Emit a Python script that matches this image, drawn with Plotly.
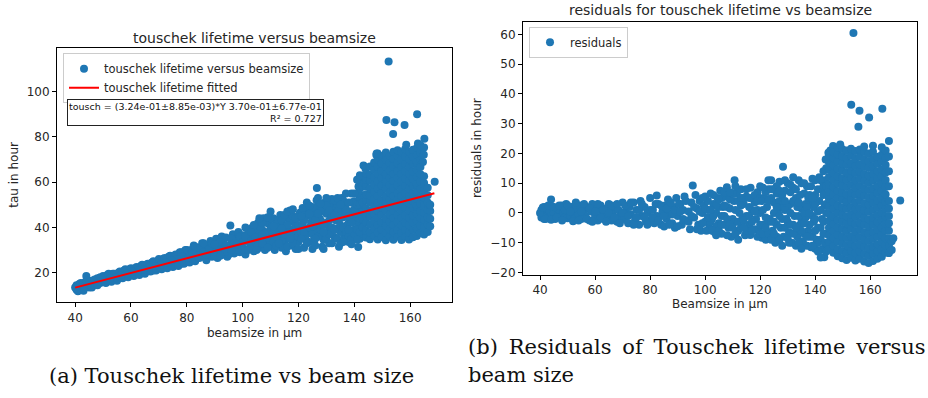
import plotly.graph_objects as go

# ---------------- data ----------------
# (a) touschek lifetime [hour] versus beam size [um]
tau_low = [(40.5,12.5),(40.5,14.5),(41,13),(41.5,15),(42,12.5),(42,14),(43,13.5),(43,15.5),(44,14),(44,18.5),
           (44.5,16),(45,13.5),(45.5,15),(46,16.5),(46.5,14.5),(47,15.5),(48,16),(48,17.5),(49,15.5),(49.5,17),
           (50,16),(50,18.5),(51,17),(51.5,19),(52,16.5),(53,18),(53.5,19.5),(54,17),(55,18.5),(55.5,20),
           (56,17.5),(57,19),(57.5,21),(58,18.5),(59,20),(59.5,21.5),(60,19),(61,20.5),(61.5,22),(62,19.5),
           (63,21),(63.5,23),(64,20),(65,21.5),(65.5,23.5),(66,21),(67,22.5),(67.5,24.5),(68,21),(69,23),
           (69.5,25),(70,22),(71,24),(71.5,26),(72,22.5),(73,24.5),(73.5,27),(74,23),(75,25),(75.5,27.5),
           (76,23.5),(77,26),(77.5,29),(78,24),(79,26.5),(79.5,30),(80,25),(80,28),
           (40,13.5),(41,11.8),(42,15.5),(43,12),(44,16.5),(45,15.8),(46,13.5),(47,17),(48,14.5),(49,18),
           (50,17.3),(51,15.5),(52,19.5),(53,16),(54,19.5),(55,16.5),(56,20.5),(57,17.5),(58,21.5),(59,18),
           (60,22),(61,18.5),(62,22.5),(63,19),(64,23.5),(65,19.5),(66,24),(67,20.5),(68,25),(69,21),
           (70,26),(71,21.5),(72,26.5),(73,22),(74,27.5),(75,22.5),(76,28),(77,23),(78,29),(79,24),
           (80,30),(78.5,27),(76.5,26),(74.5,25.5),(72.5,24.5),(70.5,23.5),(68.5,23),(66.5,22.5),(64.5,21.5),(62.5,21),
           (60.5,20.5),(58.5,19.5),(56.5,19),(54.5,18),(52.5,17.5)]
tau_mid = [(81,24.5),(81,27),(81.5,30),(82,26),(82.5,32),(83,25),(83.5,28.5),(84,31),(84.5,26.5),(85,29),
           (85.5,33),(86,27),(86.5,30.5),(87,25.5),(87.5,32),(88,28),(88.5,34),(89,27),(89.5,31),(90,29),
           (90.5,35),(91,26.5),(91.5,33),(92,30),(92.5,36),(93,28),(93.5,32.5),(94,35.5),(94.5,27),(95,30.5),
           (95.6,40.8),(96,33),(96.5,37),(97,28.5),(97.5,31),(98,35),(98.5,38),(99,29),(99.5,33),(100,31),
           (100,36.5),(101,28),(101.5,34),(102,38.5),(102.5,31),(103,36),(103.5,40),(104,29.5),(104.5,33),(105,37.5),
           (105.5,42),(106,31),(106.5,35),(107,39),(107.5,44),(108,30),(108.5,34),(109,38),(109.5,41.5),(110,47),
           (110,32.5),(110.5,36),(111,44),(111.5,30),(112,39),(112.5,34),(113,42),(113.5,45.5),(114,31),(114.5,37),
           (115,40.5),(115.5,29.5),(116,44),(116.5,35),(117,47.5),(117.5,32),(118,39),(118.5,42),(119,30.5),(119.5,36),
           (120,44.5),(120,33.5),(120.5,46.5),(100.5,30),(102,34.5),(103,32),(105,33),(106,40),(108,42),(109,35.5),
           (111,33.5),(112,43),(113,37),(115,34),(116,38.5),(118,35.5),(119,41),(117,43.5),
           (80.5,26.5),(82,29),(83,31.5),(84,27.5),(85,31),(86,29),(87,28),(88,31),(89,33),(90,27.5),
           (91,31),(92,33.5),(93,30.5),(94,32),(95,28),(96,35),(97,33),(98,30),(99,36),(100,33.5),
           (86,33),(90,32.5),(94,29.5),(98,32.5),(92,27.5),(96,30),
           (101,36),(102,30),(103,34),(104,38),(104,41),(105,30),(106,37),(107,33),(107,42),(108,37),
           (109,31),(110,39.5),(110,44),(111,37.5),(112,32),(113,40),(114,34),(114,43),(115,37),(116,31.5),
           (116,41),(117,38),(118,33),(118,45),(119,38.5),(120,30.5),(120,38),(120,41),
           (101,40),(103,38),(104.5,35.5),(106,44),(107,36.5),(109,44.5),(111,40.5),(112,36),(113,33),(114,39.5),
           (115,45.5),(116,47),(117,35),(118,48),(119,44),(120,36)]
tau_high = [(121,38),(121.5,41.5),(122,31),(122.5,35),(123,45),(123.5,48),(124,37.5),(124.5,42),(125,30.5),(125.5,34),
            (126,47),(126.5,52),(126.6,57.4),(127,40),(127.5,44),(128,36),(128.5,31.5),(129,48.5),(129.5,51),(130,42),
            (130.5,38),(131,33),(131.5,46),(132,52.5),(132.5,49),(133,35.5),(133.5,43),(134,39.5),(134.5,31.5),(135,47),
            (135.5,53),(136,44.5),(136.5,36),(137,50.5),(137.5,41),(138,33.5),(138.5,47),(139,55),(139.5,38.5),(140,44),
            (140,51.5),(140.5,35.5),(141.4,31.3),(141.5,58),(142,48),(142.5,41),(143,37),(143,54),(143.3,67.3),(143.5,62),
            (121,35),(122,43),(123,39.5),(124,33.5),(125,44),(126,38),(127,49.5),(128,43),(129,34.5),(130,46),
            (131,40),(132,37),(133,48),(134,44),(135,38),(136,49),(137,35),(138,42),(139,46),(140,39),
            (141,42),(142,35),(142,53),(141,55),(139,51),(137,45),(134,50),(131,50.5),
            (121,45),(122,38),(122,48),(123,33),(124,40),(124,46),(125,37),(125,49),(126,32),(126,43),
            (127,36),(127,53),(128,39),(128,47),(129,41),(129,30.5),(130,35),(130,49.5),(131,37),(131,43),
            (132,33),(132,40),(132,45),(133,39),(133,52),(134,35),(134,47),(135,33),(135,41),(135,44),
            (136,40),(136,52),(137,38),(137,48),(138,36),(138,45),(138,51),(139,35),(139,42),(140,37),
            (140,48),(141,34.5),(141,39),(141,46),(141,50),(142,38),(142,44),(142,50),(142,57),(143,40),
            (143,44),(143,47),(143,51),(143,58),(144,66),(142.5,60),
            (121.5,48.5),(123,51),(124,49.5),(125,40.5),(126,35),(127,46),(128,50.5),(129,38),(130,53),(131,47.5),
            (133,45.5),(134,53),(135,50),(136,33.5),(137,55),(138,39),(139,32.5),(140,55),(141,61),(142,63)]
tau_cluster = [(144.2,35.5),(144.2,38.6),(144.2,42.0),(144.2,45.1),(144.2,48.3),(144.2,51.7),(144.2,54.6),(144.2,58.0),(144.2,61.2),(144.2,63.8),
               (145.6,34.8),(145.6,37.9),(145.6,41.2),(145.6,44.6),(145.6,47.5),(145.6,50.9),(145.6,54.1),(145.6,57.3),(145.6,60.6),(145.6,63.5),(145.6,66.9),
               (147.1,36.2),(147.1,39.5),(147.1,42.7),(147.1,46.0),(147.1,49.2),(147.1,52.4),(147.1,55.8),(147.1,58.9),(147.1,62.1),(147.1,65.4),(147.1,68.6),(147.9,71.9),
               (148.4,34.6),(148.4,37.7),(148.4,41.0),(148.4,44.3),(148.4,47.4),(148.4,50.8),(148.4,53.9),(148.4,57.2),(148.4,60.4),(148.4,63.7),(148.4,66.8),(148.4,70.1),(148.4,72.6),
               (149.8,35.8),(149.8,39.1),(149.8,42.3),(149.8,45.6),(149.8,48.8),(149.8,52.0),(149.8,55.3),(149.8,58.5),(149.8,61.8),(149.8,65.0),(149.8,68.2),(149.8,71.5),
               (151.3,34.3),(151.3,37.5),(151.3,40.8),(151.3,44.0),(151.3,47.3),(151.3,50.5),(151.3,53.7),(151.3,57.0),(151.3,60.2),(151.3,63.4),(151.3,66.7),(151.3,69.9),(151.3,73.0),
               (152.7,36.0),(152.7,39.2),(152.7,42.5),(152.7,45.7),(152.7,49.0),(152.7,52.2),(152.7,55.4),(152.7,58.7),(152.7,61.9),(152.7,65.1),(152.7,68.4),(152.7,71.6),
               (154.0,34.5),(154.0,37.8),(154.0,41.1),(154.0,44.3),(154.0,47.5),(154.0,50.8),(154.0,54.0),(154.0,57.2),(154.0,60.5),(154.0,63.7),(154.0,66.9),(154.0,70.2),(154.0,73.4),
               (155.5,35.9),(155.5,39.0),(155.5,42.4),(155.5,45.5),(155.5,48.9),(155.5,52.1),(155.5,55.2),(155.5,58.6),(155.5,61.8),(155.5,65.0),(155.5,68.3),(155.5,71.5),(155.5,74.0),
               (156.9,34.4),(156.9,37.6),(156.9,40.9),(156.9,44.2),(156.9,47.3),(156.9,50.6),(156.9,53.8),(156.9,57.1),(156.9,60.3),(156.9,63.6),(156.9,66.8),(156.9,70.0),(156.9,73.2),
               (158.2,35.7),(158.2,38.9),(158.2,42.2),(158.2,45.4),(158.2,48.7),(158.2,51.9),(158.2,55.1),(158.2,58.4),(158.2,61.6),(158.2,64.8),(158.2,68.1),(158.2,71.3),(158.2,74.5),(158.6,76.5),
               (159.6,34.6),(159.6,37.8),(159.6,41.0),(159.6,44.3),(159.6,47.6),(159.6,50.8),(159.6,54.0),(159.6,57.3),(159.6,60.5),(159.6,63.7),(159.6,67.0),(159.6,70.2),(159.6,73.4),
               (161.0,35.6),(161.0,38.8),(161.0,42.1),(161.0,45.3),(161.0,48.6),(161.0,51.8),(161.0,55.0),(161.0,58.3),(161.0,61.5),(161.0,64.7),(161.0,68.0),(161.0,71.2),(161.0,74.3),
               (162.4,36.2),(162.4,39.5),(162.4,42.8),(162.4,46.0),(162.4,49.3),(162.4,52.5),(162.4,55.7),(162.4,59.0),(162.4,62.2),(162.4,65.4),(162.4,68.7),(162.4,71.9),(162.4,75.0),(162.8,77.0),
               (163.7,37.5),(163.7,40.8),(163.7,44.0),(163.7,47.2),(163.7,50.5),(163.7,53.7),(163.7,57.0),(163.7,60.2),(163.7,63.4),(163.7,66.6),(163.7,69.9),(163.7,73.0),(163.7,76.2),
               (165.0,36.9),(165.0,40.1),(165.0,43.4),(165.0,46.6),(165.0,49.9),(165.0,53.1),(165.0,56.3),(165.0,59.6),(165.0,62.6),(164.6,68.8),(164.9,72.0),(165.0,75.3),
               (166.3,38.0),(166.3,41.3),(166.3,44.5),(166.3,47.8),(166.3,51.0),(166.3,54.2),(166.3,57.5),
               (167.2,40.5),(167.2,43.8),(167.2,47.2),(167.2,50.0)]
tau_outliers = [(152.3,113.2),(151.5,87.4),(154.4,86.4),(158.0,85.2),(162.5,89.9),(153.9,81.2),(165.1,79.1),
                (168.8,60.1),(148.0,72.6)]

# fitted line end points
fit_x = [40.0, 168.7]
fit_y = [13.4, 55.1]

# (b) residuals [hour] versus beam size [um]
res_low = [(40.5,-1.5),(40.5,1),(41,0),(41.5,-2),(41.5,2),(42,-0.5),(42.5,1.5),(43,-1.5),(43.5,0.5),(44,4.5),
           (44,-1),(44.5,2),(45,0),(45.5,-2),(46,1.5),(46.5,-0.5),(47,1),(47.5,-1.5),(48,2.5),(48.5,0),
           (49,-1.5),(49.5,3),(50,0.5),(50,-1.8),(51,-1),(51.5,2),(52,0),(52.5,-2),(53,1.5),(54,-0.5),
           (54.5,2.5),(55,-2),(56,1),(56.5,-1),(57,2),(58,-2.5),(58.5,0.5),(59,3),(60,-1),(60.5,1.5),
           (61,-2.5),(62,2.5),(62.5,0),(63,-2),(64,1.5),(64.5,-1),(65,3),(66,-2.5),(66.5,0.5),(67,2),
           (68,-3),(68.5,1),(69,-1),(70,3.5),(70.5,-2),(71,0.5),(72,-3.5),(72.5,2),(73,-0.5),(74,3.5),
           (74.5,-2.5),(75,1),(76,-4),(76.5,4),(77,-1),(78,2),(78.5,-3),(79,0),(80,5),(80,-2.5),
           (40,0),(41,1.8),(42,-2),(43,2.5),(44,-2.3),(45,2),(46,-1.5),(47,2.5),(48,-2.5),(49,1),
           (50,2.5),(51,0.5),(52,-2.8),(53,3.5),(54,-2.5),(55,0.5),(56,3),(57,-2),(58,1.5),(59,-3),
           (60,0.5),(61,3),(62,-1.5),(63,1),(64,-3),(65,0),(66,2.5),(67,-1.5),(68,3),(69,-3.5),
           (70,0),(71,2.5),(72,-1),(73,3.5),(74,-4),(75,-1.5),(76,1),(77,3),(78,-1.5),(79,-4),(80,1)]
res_mid = [(81,1),(81.5,-3.5),(82.4,5.9),(82.5,-1),(83,3),(84,-4),(84.5,0.5),(85.1,-4.6),(85.5,2.5),(86,-2),
           (86.5,4.5),(87,0),(88,-3.5),(88.5,2),(89,-5),(89.5,5),(90,-1),(91,3),(91.5,-4),(92,1),
           (92.5,5.5),(93,-2.5),(94,0.5),(94.5,-5.5),(95,3.5),(95.5,9.2),(96,-1.5),(96.5,6),(97,1.5),(97.5,-4),
           (98,4),(98.5,-6),(99,0),(99.5,2.5),(100,-3),(100,5.5),(101,1),(101.5,-5),(102,6.5),(102.5,-2),
           (103,3),(103.5,-6.5),(104,0),(104.5,5),(105,-3.5),(105.5,7.5),(106,-7),(106.5,2),(107,-1),(107.5,5.5),
           (107.9,8.6),(108.5,-5),(109,1.5),(109.5,-8),(110.7,11),(110.5,4),(111,-3),(111.5,6.5),(112,-6),(112.5,0),
           (113,8),(113.5,-2),(114,3),(114.5,-7.5),(115,5.5),(116,-4),(116.5,8.5),(117,1),(116.4,-7.4),(118,3.5),
           (118.5,-2),(119,7),(119.5,-6),(120,0),(120,9),(120.6,-8.3),(100.5,-6),(101,4),(102,-3),(103,6),
           (104,-4.5),(105,2),(106,5),(107,-4),(108,2),(109,4.5),(110,-2),(111,1),(112,4),(113,-5),
           (114,5),(115,-1),(116,2),(117,5),(118,-5.5),(119,1),(120,-4),(102.5,-6),(111,-7),(115,-6),
           (81,-1.5),(82,3),(83,-2.5),(84,2.5),(85,-1),(86,1.5),(87,-4),(87.5,3.5),(88,-0.5),(89,1),
           (90,-4.5),(90.5,3),(91,0.5),(92,-2),(93,4),(94,-3),(95,-1),(96,2),(97,-5.5),(98,0.5),
           (99,-3.5),(99,5),(101,-1.5),(103,-1),(104,2.5),(105,-6),(106,-1),(107,7),(108,-2),(109,-4),
           (110,6.5),(112,-3),(113,2.5),(114,-2.5),(116,5),(117,-3),(118,6),(119,-8),(120,5),
           (100,1.5),(102,1),(104,-7.5),(105,4.5),(106,-4),(107,2.5),(108,-7.5),(109,7),(110,-5),(111,9),
           (112,-9),(113,5),(114,-5),(115,8),(116,-1),(117,-6),(118,0.5),(119,4),(120,-7)]
res_high = [(121,-4),(121.5,5),(122,-9),(122.5,2),(123,8),(123.5,-2),(124,11),(124.5,-6),(125,3.5),(125.5,-10),
            (126,6.5),(126.5,0),(127,10.5),(127.5,-5),(128.3,15.5),(128,2),(128.5,-8),(129,7.5),(129.5,-2),(130,10),
            (130.5,-6.5),(131,3),(131.5,-10),(132,8.5),(132.5,-1),(133,5),(133.5,-8),(134,11),(134.5,-4),(135,1.5),
            (135.5,-9.5),(136,6.5),(136.5,-1.5),(137,9),(137.5,-6),(138,3),(138.5,-11.5),(139,11.5),(139.5,-3),(140,6),
            (140.5,-9),(141,0.5),(141.5,12),(142,-5),(142.5,8),(143,-12),(143.3,-14.9),(143.5,2.5),(120.5,4),(121,-7),
            (122,7),(123,-3),(123,-7),(124,5),(125,0),(125,8),(126,-4),(126,-8),(127,4),(128,-2),
            (129,-5),(129,11),(130,2),(130.5,-10),(131,7),(132,-4),(132,12),(133,-11),(133.5,2),(134,-6),
            (134.5,6),(135,-2),(135,10),(136,-7),(136.5,3),(137,-11),(137.5,5),(138,-4),(138.5,9),(139,-8),
            (139.5,2),(140,-12),(140,11),(141,-5),(141.5,4),(142,-9),(142.5,-2),(143,6),(143.5,11),(144,-7),
            (144,3),(144,15),(144.5,-11),(143.8,18),(144.8,20.2),
            (121,1),(122,-5),(123,4),(124,-9),(125,-3),(126,9),(127,-1),(127,-9),(128,6),(129,1),
            (130,-3),(131,-4),(131,9.5),(132,-7),(133,8),(134,-1),(134,-10),(135,-6),(136,0),(136,10),
            (137,2),(138,-8),(138,6),(139,-1),(140,-6),(140,3),(141,8),(141,-10),(142,1),(142,-12.5),
            (143,-7),(143,14),(145.5,21),(146.5,22.5),
            (121,8.5),(122,-1.5),(123,11),(124,-3),(124,8),(125,-7),(126,2),(127,7.5),(128,-11),(129,4),
            (130,-8.5),(131,0),(132,4),(133,-5),(134,3.5),(135,-12),(136,-3.5),(137,-8),(138,0),(139,5),
            (139,-11),(140,-2),(141,-13),(142,11),(142,-15),(143,-3),(143,9),(144,-13),(144,0),(144,9),
            (143.5,-10)]
res_cluster = [(145.0,-12.3),(145.0,-9.8),(145.0,-7.5),(145.0,-5.0),(145.0,-2.6),(145.0,-0.1),(145.0,2.3),(145.0,4.8),(145.0,7.2),(145.0,9.6),(145.0,12.1),(145.0,14.5),(145.0,17.0),(145.0,19.3),
               (146.6,-13.4),(146.6,-11.0),(146.6,-8.5),(146.6,-6.1),(146.6,-3.6),(146.6,-1.2),(146.6,1.3),(146.6,3.7),(146.6,6.2),(146.6,8.6),(146.6,11.1),(146.6,13.5),(146.6,16.0),(146.6,18.4),(146.6,20.4),
               (148.2,-14.6),(148.2,-12.2),(148.2,-9.7),(148.2,-7.3),(148.2,-4.8),(148.2,-2.4),(148.2,0.1),(148.2,2.5),(148.2,5.0),(148.2,7.4),(148.2,9.9),(148.2,12.3),(148.2,14.8),(148.2,17.2),(148.2,19.7),(148.2,22.1),
               (149.8,-15.2),(149.8,-12.8),(149.8,-10.3),(149.8,-7.9),(149.8,-5.4),(149.8,-3.0),(149.8,-0.5),(149.8,1.9),(149.8,4.4),(149.8,6.8),(149.8,9.3),(149.8,11.7),(149.8,14.2),(149.8,16.6),(149.8,19.1),(149.8,21.5),(149.1,23.0),
               (151.4,-15.8),(151.4,-13.3),(151.4,-10.9),(151.4,-8.4),(151.4,-6.0),(151.4,-3.5),(151.4,-1.1),(151.4,1.4),(151.4,3.8),(151.4,6.3),(151.4,8.7),(151.4,11.2),(151.4,13.6),(151.4,16.1),(151.4,18.5),(151.4,21.0),
               (153.0,-15.1),(153.0,-12.7),(153.0,-10.2),(153.0,-7.8),(153.0,-5.3),(153.0,-2.9),(153.0,-0.4),(153.0,2.0),(153.0,4.5),(153.0,6.9),(153.0,9.4),(153.0,11.8),(153.0,14.3),(153.0,16.7),(153.0,19.2),(153.0,21.6),
               (154.6,-16.0),(154.6,-13.5),(154.6,-11.1),(154.6,-8.6),(154.6,-6.2),(154.6,-3.7),(154.6,-1.3),(154.6,1.2),(154.6,3.6),(154.6,6.1),(154.6,8.5),(154.6,11.0),(154.6,13.4),(154.6,15.9),(154.6,18.3),(154.6,20.8),
               (156.2,-15.4),(156.2,-13.0),(156.2,-10.5),(156.2,-8.1),(156.2,-5.6),(156.2,-3.2),(156.2,-0.7),(156.2,1.7),(156.2,4.2),(156.2,6.6),(156.2,9.1),(156.2,11.5),(156.2,14.0),(156.2,16.4),(156.2,18.9),(156.2,21.3),
               (157.8,-16.3),(157.8,-13.8),(157.8,-11.4),(157.8,-8.9),(157.8,-6.5),(157.8,-4.0),(157.8,-1.6),(157.8,0.9),(157.8,3.3),(157.8,5.8),(157.8,8.2),(157.8,10.7),(157.8,13.1),(157.8,15.6),(157.8,18.0),(157.8,20.5),(157.8,22.3),
               (159.4,-16.8),(159.4,-14.3),(159.4,-11.9),(159.4,-9.4),(159.4,-7.0),(159.4,-4.5),(159.4,-2.1),(159.4,0.4),(159.4,2.8),(159.4,5.3),(159.4,7.7),(159.4,10.2),(159.4,12.6),(159.4,15.1),(159.4,17.5),(159.4,20.0),
               (161.0,-16.2),(161.0,-13.7),(161.0,-11.3),(161.0,-8.8),(161.0,-6.4),(161.0,-3.9),(161.0,-1.5),(161.0,1.0),(161.0,3.4),(161.0,5.9),(161.0,8.3),(161.0,10.8),(161.0,13.2),(161.0,15.7),(161.0,18.1),(161.0,20.6),(161.0,22.6),
               (162.6,-15.4),(162.6,-12.9),(162.6,-10.5),(162.6,-8.0),(162.6,-5.6),(162.6,-3.1),(162.6,-0.7),(162.6,1.8),(162.6,4.2),(162.6,6.7),(162.6,9.1),(162.6,11.6),(162.6,14.0),(162.6,16.5),(162.6,18.9),
               (164.2,-14.7),(164.2,-12.2),(164.2,-9.8),(164.2,-7.3),(164.2,-4.9),(164.2,-2.4),(164.2,0.0),(164.2,2.5),(164.2,4.9),(164.2,7.4),(164.2,9.8),(164.2,12.3),(164.2,14.7),(164.2,17.2),(164.2,19.6),(164.2,22.1),
               (165.6,-13.4),(165.6,-10.9),(165.6,-8.5),(165.6,-6.0),(165.6,-3.6),(165.6,-1.1),(165.6,1.3),(165.6,3.8),(165.6,6.2),(165.6,8.7),(165.6,11.1),(165.6,13.6),(165.6,16.1),(165.6,18.5),(165.6,21.0),
               (166.8,-13.5),(166.8,-11.0),(166.8,-8.5),(166.8,-6.0),(166.8,-3.5),(166.8,-1.0),(166.8,1.5),(166.8,4.0),(166.8,9.0),(166.8,14.0),(166.8,19.0),(166.8,24.2),
               (167.8,-12.5),(167.8,-9.5),(168.4,-8.5)]
res_outliers = [(153.9,60.5),(153.1,36.4),(156.1,34.4),(159.6,32.1),(164.4,35.0),(155.7,29.0),(170.9,4.2)]

x_ticks = [40, 60, 80, 100, 120, 140, 160]
tau_ticks = [20, 40, 60, 80, 100]
res_ticks = [-20, -10, 0, 10, 20, 30, 40, 50, 60]

# ---------------- figure ----------------
W, H = 928, 398
BLUE = '#1f77b4'
FONT = 'DejaVu Sans'
TXT = '#262626'

tau_pts = tau_low + tau_mid + tau_high + tau_cluster + tau_outliers
res_pts = res_low + res_mid + res_high + res_cluster + res_outliers

fig = go.Figure()
fig.add_trace(go.Scatter(
    x=[p[0] for p in tau_pts], y=[p[1] for p in tau_pts], mode='markers',
    marker=dict(color=BLUE, size=8, line=dict(width=0)),
    name='touschek lifetime versus beamsize', xaxis='x', yaxis='y', legend='legend'))
fig.add_trace(go.Scatter(
    x=fit_x, y=fit_y, mode='lines', line=dict(color='#ff0000', width=2),
    name='touschek lifetime fitted', xaxis='x', yaxis='y', legend='legend'))
fig.add_trace(go.Scatter(
    x=[p[0] for p in res_pts], y=[p[1] for p in res_pts], mode='markers',
    marker=dict(color=BLUE, size=8, line=dict(width=0)),
    name='residuals', xaxis='x2', yaxis='y2', legend='legend2'))

def px_x(p):
    return p / W

def px_y(p):
    return (H - p) / H

axis_style = dict(showline=True, mirror=True, linecolor='#000', linewidth=1,
                  ticks='outside', ticklen=4, tickwidth=1, tickcolor='#000',
                  showgrid=False, zeroline=False,
                  tickfont=dict(family=FONT, size=12, color=TXT))

fig.update_layout(
    width=W, height=H, margin=dict(l=0, r=0, t=0, b=0),
    paper_bgcolor='white', plot_bgcolor='white', showlegend=True,
    xaxis=dict(domain=[px_x(57), px_x(452)], range=[33.5, 175], tickvals=x_ticks, anchor='y', **axis_style),
    yaxis=dict(domain=[px_y(306), px_y(49)], range=[7, 119], tickvals=tau_ticks, anchor='x', **axis_style),
    xaxis2=dict(domain=[px_x(523), px_x(917)], range=[33.8, 177], tickvals=x_ticks, anchor='y2', **axis_style),
    yaxis2=dict(domain=[px_y(278), px_y(22)], range=[-20.7, 64.3], tickvals=res_ticks, anchor='x2', **axis_style),
    legend=dict(x=px_x(63), y=px_y(54), xanchor='left', yanchor='top', bgcolor='white',
                bordercolor='#cccccc', borderwidth=1, font=dict(family=FONT, size=11.5, color=TXT),
                tracegroupgap=0),
    legend2=dict(x=px_x(529), y=px_y(27), xanchor='left', yanchor='top', bgcolor='white',
                 bordercolor='#cccccc', borderwidth=1, font=dict(family=FONT, size=11.5, color=TXT)),
)

ann = []
def text(x, y, s, size, family=FONT, color=TXT, xanchor='center', angle=0, align='center'):
    ann.append(dict(x=px_x(x), y=px_y(y), xref='paper', yref='paper', text=s, showarrow=False,
                    xanchor=xanchor, yanchor='middle', textangle=angle, align=align,
                    font=dict(family=family, size=size, color=color)))

text(254.5, 38, 'touschek lifetime versus beamsize', 14)
text(254.5, 337, 'beamsize in µm', 12)
text(14, 177, 'tau in hour', 12, angle=-90)
text(720, 10, 'residuals for touschek lifetime vs beamsize', 14)
text(720, 308, 'Beamsize in µm', 12)
text(477, 150, 'residuals in hour', 12, angle=-90)

# fit statistics box
ann.append(dict(x=px_x(324), y=px_y(113.5), xref='paper', yref='paper', showarrow=False,
                xanchor='right', yanchor='middle', align='right',
                text='tousch = (3.24e-01±8.85e-03)*Y 3.70e-01±6.77e-01<br>R² = 0.727',
                font=dict(family=FONT, size=9.5, color='#111'),
                bgcolor='white', bordercolor='#222', borderwidth=1, borderpad=1))

# captions
SERIF = 'DejaVu Serif'
CAP = 21
text(47, 381, '(a) Touschek lifetime vs beam size', CAP, family=SERIF, color='#111', xanchor='left')
text(466, 351, '(b)\u2009 Residuals\u2009 of\u2009 Touschek\u2009 lifetime\u2009 versus', CAP, family=SERIF, color='#111', xanchor='left')
text(466, 380, 'beam size', CAP, family=SERIF, color='#111', xanchor='left')

fig.update_layout(annotations=ann)
fig.write_html('out.html')
